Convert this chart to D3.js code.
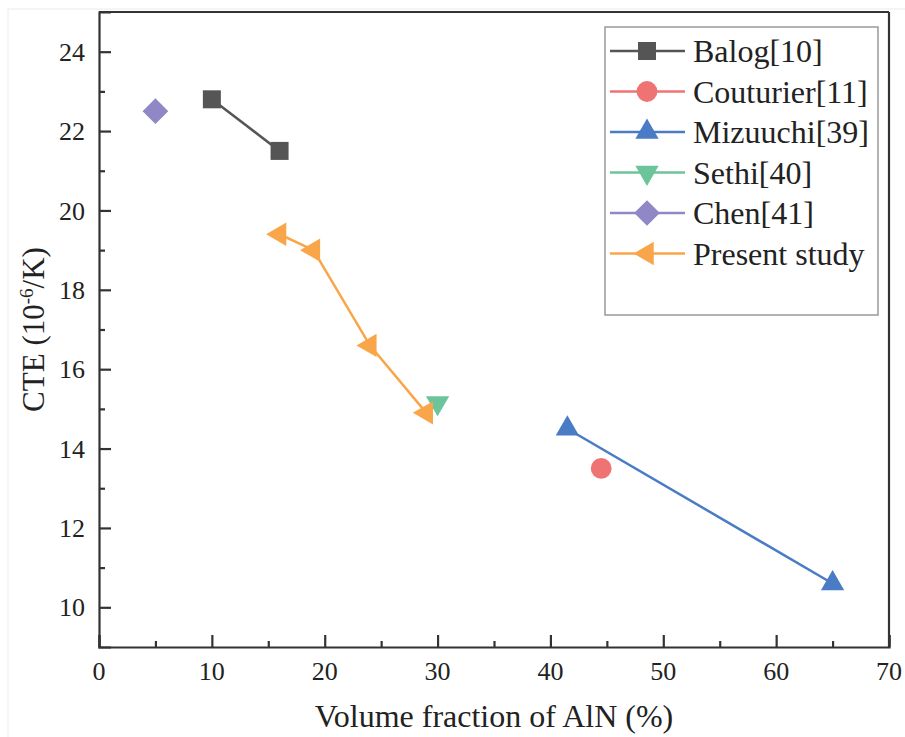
<!DOCTYPE html>
<html>
<head>
<meta charset="utf-8">
<script src="https://cdn.jsdelivr.net/npm/d3@7"></script>
<style>
  body { margin: 0; background: #fff; }
</style>
</head>
<body>
<div id="chart"></div>
<script>
// data
const seriesNames = ["Balog[10]", "Couturier[11]", "Mizuuchi[39]", "Sethi[40]", "Chen[41]", "Present study"];
const balogX = [10, 16],            balogY = [22.8, 21.5];
const couturierX = [44.5],          couturierY = [13.5];
const mizuuchiX = [41.5, 65],       mizuuchiY = [14.5, 10.6];
const sethiX = [30],                sethiY = [15.15];
const chenX = [5],                  chenY = [22.5];
const presentX = [16, 19, 24, 29],  presentY = [19.4, 19.0, 16.6, 14.9];
const xTicks = [0, 10, 20, 30, 40, 50, 60, 70];
const yTicks = [10, 12, 14, 16, 18, 20, 22, 24];

const width = 905, height = 737;
const margin = { top: 12, right: 16, bottom: 90, left: 99 };
const serif = "'Liberation Serif', Tinos, 'DejaVu Serif', 'Times New Roman', serif";

const series = [
  { name: seriesNames[0], xs: balogX, ys: balogY, color: "#555555", shape: d3.symbolSquare, size: 324, rot: 0 },
  { name: seriesNames[1], xs: couturierX, ys: couturierY, color: "#F07373", shape: d3.symbolCircle, size: 340, rot: 0 },
  { name: seriesNames[2], xs: mizuuchiX, ys: mizuuchiY, color: "#4A7BC5", shape: d3.symbolTriangle, size: 235, rot: 0 },
  { name: seriesNames[3], xs: sethiX, ys: sethiY, color: "#6CC59A", shape: d3.symbolTriangle, size: 235, rot: 180 },
  { name: seriesNames[4], xs: chenX, ys: chenY, color: "#9088C6", shape: d3.symbolSquare, size: 330, rot: 45 },
  { name: seriesNames[5], xs: presentX, ys: presentY, color: "#F9A64A", shape: d3.symbolTriangle, size: 235, rot: -90 }
];

const svg = d3.select("#chart").append("svg")
  .attr("width", width)
  .attr("height", height)
  .attr("font-family", serif)
  .style("display", "block");

// faint picture border
svg.append("rect")
  .attr("x", 8).attr("y", 9)
  .attr("width", width).attr("height", height)
  .attr("fill", "none")
  .attr("stroke", "#ececec");

const x = d3.scaleLinear().domain([0, 70]).range([margin.left, width - margin.right]);
const y = d3.scaleLinear().domain([9, 25]).range([height - margin.bottom, margin.top]);

const axisColor = "#333";

// x axis: major + minor ticks pointing inward
svg.append("g")
  .attr("transform", `translate(0,${y(9)})`)
  .call(d3.axisTop(x).tickValues(xTicks).tickSize(12).tickFormat(""));
svg.append("g")
  .attr("transform", `translate(0,${y(9)})`)
  .call(d3.axisTop(x).tickValues(d3.range(5, 70, 10)).tickSize(6).tickFormat(""))
  .call(g => g.select(".domain").remove());

svg.append("g").selectAll("text")
  .data(xTicks)
  .join("text")
  .attr("x", d => x(d))
  .attr("y", y(9) + 33)
  .attr("text-anchor", "middle")
  .attr("font-family", serif)
  .attr("font-size", 26)
  .attr("fill", "#222")
  .text(d => d);

// y axis
svg.append("g")
  .attr("transform", `translate(${x(0)},0)`)
  .call(d3.axisRight(y).tickValues(yTicks).tickSize(12).tickFormat(""));
svg.append("g")
  .attr("transform", `translate(${x(0)},0)`)
  .call(d3.axisRight(y).tickValues(d3.range(11, 25, 2)).tickSize(6).tickFormat(""))
  .call(g => g.select(".domain").remove());

svg.append("g").selectAll("text")
  .data(yTicks)
  .join("text")
  .attr("x", x(0) - 14)
  .attr("y", d => y(d))
  .attr("dy", "0.35em")
  .attr("text-anchor", "end")
  .attr("font-family", serif)
  .attr("font-size", 26)
  .attr("fill", "#222")
  .text(d => d);

// top and right frame
svg.append("line")
  .attr("x1", x(0)).attr("x2", x(70))
  .attr("y1", y(25)).attr("y2", y(25));
svg.append("line")
  .attr("x1", x(70)).attr("x2", x(70))
  .attr("y1", y(25)).attr("y2", y(9));

svg.selectAll(".domain, .tick line, line")
  .attr("stroke", axisColor)
  .attr("stroke-width", 2.2);

// axis titles
svg.append("text")
  .attr("x", (x(0) + x(70)) / 2)
  .attr("y", 727)
  .attr("text-anchor", "middle")
  .attr("font-family", serif)
  .attr("font-size", 32)
  .attr("fill", "#222")
  .text("Volume fraction of AlN (%)");

const yTitle = svg.append("text")
  .attr("transform", `translate(44,${(y(9) + y(25)) / 2}) rotate(-90)`)
  .attr("text-anchor", "middle")
  .attr("font-family", serif)
  .attr("font-size", 31)
  .attr("fill", "#222");
yTitle.append("tspan").text("CTE (10");
yTitle.append("tspan").attr("dy", -11).attr("font-size", 19).text("-6");
yTitle.append("tspan").attr("dy", 11).text("/K)");

// lines and markers
const line = d3.line().x(d => x(d[0])).y(d => y(d[1]));

series.forEach(s => {
  const pts = s.xs.map((v, i) => [v, s.ys[i]]);
  if (pts.length > 1) {
    svg.append("path")
      .datum(pts)
      .attr("d", line)
      .attr("fill", "none")
      .attr("stroke", s.color)
      .attr("stroke-width", 2.5);
  }
  svg.append("g").selectAll("path")
    .data(pts)
    .join("path")
    .attr("d", d3.symbol().type(s.shape).size(s.size))
    .attr("transform", d => `translate(${x(d[0])},${y(d[1])}) rotate(${s.rot})`)
    .attr("fill", s.color);
});

// legend
const legend = svg.append("g");
legend.append("rect")
  .attr("x", 605).attr("y", 27)
  .attr("width", 273).attr("height", 288)
  .attr("fill", "#fff")
  .attr("stroke", "#999")
  .attr("stroke-width", 1.5);

const rows = legend.selectAll("g.row")
  .data(series)
  .join("g")
  .attr("class", "row")
  .attr("transform", (d, i) => `translate(0,${51 + i * 40.5})`);

rows.append("line")
  .attr("x1", 610).attr("x2", 685)
  .attr("stroke", d => d.color)
  .attr("stroke-width", 2.5);
rows.append("path")
  .attr("d", d => d3.symbol().type(d.shape).size(d.size)())
  .attr("transform", d => `translate(647,0) rotate(${d.rot})`)
  .attr("fill", d => d.color);
rows.append("text")
  .attr("x", 693)
  .attr("dy", "0.35em")
  .attr("font-family", serif)
  .attr("font-size", 32)
  .attr("fill", "#222")
  .text(d => d.name);
</script>
</body>
</html>
